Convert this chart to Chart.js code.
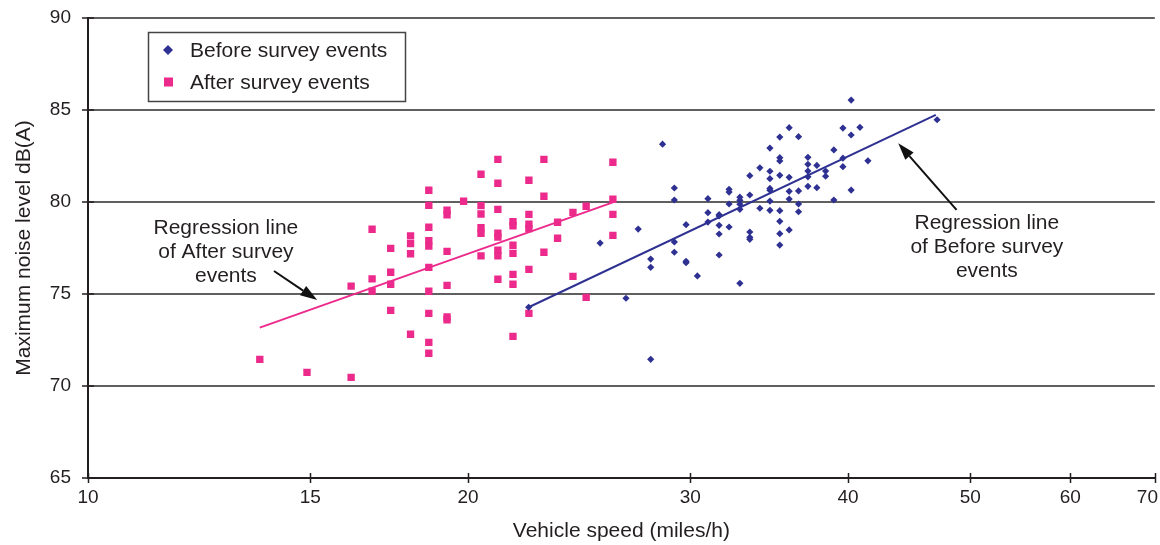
<!DOCTYPE html>
<html>
<head>
<meta charset="utf-8">
<title>Maximum noise level vs vehicle speed</title>
<script src="https://cdn.jsdelivr.net/npm/chart.js@4.4.1/dist/chart.umd.min.js"></script>
<style>
  html, body { margin: 0; padding: 0; background: #fff; }
  #wrap { width: 1160px; height: 545px; }
</style>
</head>
<body>
<div id="wrap"><canvas id="chart" width="1160" height="545"></canvas></div>
<script>
// @ts-check

const SPEED_TICKS = [10, 15, 20, 30, 40, 50, 60, 70];
const LEVEL_TICKS = [65, 70, 75, 80, 85, 90];

/** Before survey: speed columns (miles/h) and the max levels dB(A) logged at each */
const beforeSpeeds = [22.34, 25.45, 26.68, 27.28, 27.91, 28.52, 29.14, 29.77, 30.39, 30.98,
  31.62, 32.20, 32.84, 33.44, 34.06, 34.69, 35.32, 35.93, 36.55, 37.18,
  37.79, 38.40, 38.98, 39.63, 40.23, 40.88, 41.48, 47.06];
const beforeLevels = [
  [74.28],
  [77.77],
  [74.77],
  [78.53],
  [76.90, 76.45, 71.45],
  [83.14],
  [80.76, 80.11, 77.83, 77.27],
  [78.77, 76.78, 76.70],
  [75.98],
  [80.18, 79.42, 78.91],
  [79.31, 79.24, 78.73, 78.26, 77.12],
  [80.69, 80.54, 79.89, 78.64],
  [80.26, 80.09, 79.88, 79.60, 75.58],
  [81.43, 80.38, 78.37, 78.08, 77.97],
  [81.86, 79.66],
  [82.93, 81.67, 81.27, 80.74, 80.64, 80.05, 79.55],
  [83.53, 82.41, 82.23, 81.45, 79.53, 78.95, 78.28, 77.66],
  [84.04, 81.34, 80.58, 80.16, 78.48],
  [83.55, 80.60, 79.89, 79.47],
  [82.43, 82.05, 81.68, 81.37, 80.85],
  [81.99, 80.78],
  [81.68, 81.40],
  [82.83, 80.11],
  [84.02, 82.38, 81.92],
  [85.54, 83.64, 80.65],
  [84.06],
  [82.24],
  [84.47],
];

/** After survey: same layout */
const afterSpeeds = [13.68, 14.91, 16.16, 16.79, 17.37, 18.01, 18.62, 19.25, 19.84, 20.48,
  21.12, 21.71, 22.35, 22.97, 23.55, 24.22, 24.81, 26.05];
const afterLevels = [
  [71.45],
  [70.74],
  [75.43, 70.47],
  [78.52, 75.82, 75.16],
  [77.48, 76.18, 75.53, 74.11],
  [78.16, 77.74, 77.19, 72.81],
  [80.64, 79.82, 78.63, 77.90, 77.60, 76.45, 75.15, 73.95, 72.37, 71.78],
  [79.55, 79.30, 77.32, 75.47, 73.75, 73.60],
  [80.04],
  [81.51, 79.80, 79.35, 78.60, 78.30, 77.07],
  [82.32, 81.02, 79.60, 78.30, 78.10, 77.38, 77.08, 75.80],
  [78.93, 78.71, 77.65, 77.21, 76.07, 75.53, 72.70],
  [81.18, 79.33, 78.80, 78.55, 76.34, 73.95],
  [82.32, 80.31, 77.27],
  [78.90, 78.03],
  [79.44, 75.96],
  [79.77, 74.82],
  [82.16, 80.15, 79.33, 78.19],
];

/** Regression line end points (log-speed fit) */
const beforeTrendSpeed = [22.34, 46.95];
const beforeTrendLevel = [74.28, 84.73];
const afterTrendSpeed = [13.68, 26.05];
const afterTrendLevel = [73.17, 79.98];

const BLUE = "#2e3192";
const PINK = "#ec2a8c";
const INK = "#231f20";
const FONT = "'Liberation Sans', Arial, Helvetica, sans-serif";

/** Call-out text with its arrow, all in data units */
const NOTES = [
  { lines: ["Regression line", "of After survey", "events"], at: [12.86, 78.64], tail: [14.04, 76.25], tip: [15.19, 74.67] },
  { lines: ["Regression line", "of Before survey", "events"], at: [51.53, 78.89], tail: [48.76, 79.57], tip: [43.84, 83.19] },
];

/**
 * @param {number[]} speeds
 * @param {number[][]} levels
 */
function toPoints(speeds, levels) {
  return speeds.flatMap((s, i) => levels[i].map((y) => ({ x: s, y })));
}

/** @param {number[]} xs @param {number[]} ys */
function toLine(xs, ys) {
  return xs.map((x, i) => ({ x, y: ys[i] }));
}

function arrow(ctx, x0, y0, x1, y1) {
  const ang = Math.atan2(y1 - y0, x1 - x0);
  const len = 17;
  const half = 5.5;
  const bx = x1 - Math.cos(ang) * len;
  const by = y1 - Math.sin(ang) * len;
  ctx.beginPath();
  ctx.moveTo(x0, y0);
  ctx.lineTo(bx, by);
  ctx.stroke();
  ctx.beginPath();
  ctx.moveTo(x1, y1);
  ctx.lineTo(bx + Math.sin(ang) * half, by - Math.cos(ang) * half);
  ctx.lineTo(bx - Math.sin(ang) * half, by + Math.cos(ang) * half);
  ctx.closePath();
  ctx.fill();
}

const decor = {
  id: "decor",
  afterDraw(chart) {
    const { ctx, chartArea: area } = chart;
    const xs = chart.scales.x;
    const ys = chart.scales.y;
    ctx.save();

    // cross tick marks on both axes
    ctx.strokeStyle = INK;
    ctx.lineWidth = 1.5;
    ctx.beginPath();
    for (const v of LEVEL_TICKS) {
      const py = Math.round(ys.getPixelForValue(v));
      ctx.moveTo(area.left - 6, py);
      ctx.lineTo(area.left + 6, py);
    }
    for (const v of SPEED_TICKS) {
      const px = Math.round(xs.getPixelForValue(v)) + 0.5;
      ctx.moveTo(px, area.bottom - 5);
      ctx.lineTo(px, area.bottom + 5);
    }
    ctx.stroke();

    // speed labels, the last one pulled in so it stays on the canvas
    ctx.fillStyle = INK;
    ctx.font = `19px ${FONT}`;
    ctx.textAlign = "left";
    ctx.textBaseline = "middle";
    for (const v of SPEED_TICKS) {
      const t = String(v);
      const w = ctx.measureText(t).width;
      const px = xs.getPixelForValue(v);
      const left = Math.min(px - w / 2, chart.width - 2 - w);
      ctx.fillText(t, left, area.bottom + 20);
    }

    // legend box
    const lx = area.left + 60;
    const ly = area.top + 14;
    ctx.fillStyle = "#fff";
    ctx.fillRect(lx, ly, 257, 69);
    ctx.strokeStyle = "#444";
    ctx.lineWidth = 1.5;
    ctx.strokeRect(lx + 0.5, ly + 0.5, 257, 69);

    const row1 = ly + 18;
    const row2 = ly + 50;
    ctx.fillStyle = BLUE;
    ctx.beginPath();
    ctx.moveTo(lx + 20, row1 - 5);
    ctx.lineTo(lx + 25, row1);
    ctx.lineTo(lx + 20, row1 + 5);
    ctx.lineTo(lx + 15, row1);
    ctx.closePath();
    ctx.fill();
    ctx.fillStyle = PINK;
    ctx.fillRect(lx + 16, row2 - 4.5, 9, 9);

    ctx.fillStyle = INK;
    ctx.font = `21px ${FONT}`;
    ctx.fillText("Before survey events", lx + 42, row1 + 1);
    ctx.fillText("After survey events", lx + 42, row2 + 1);

    // regression call-outs
    ctx.textAlign = "center";
    ctx.strokeStyle = "#111";
    ctx.lineWidth = 2;
    for (const n of NOTES) {
      const cx = xs.getPixelForValue(n.at[0]);
      const cy = ys.getPixelForValue(n.at[1]);
      ctx.fillStyle = INK;
      n.lines.forEach((t, i) => ctx.fillText(t, cx, cy + i * 24 + 1));
      ctx.fillStyle = "#111";
      arrow(ctx,
        xs.getPixelForValue(n.tail[0]), ys.getPixelForValue(n.tail[1]),
        xs.getPixelForValue(n.tip[0]), ys.getPixelForValue(n.tip[1]));
    }
    ctx.restore();
  },
};

const canvas = /** @type {HTMLCanvasElement} */ (document.getElementById("chart"));

new Chart(canvas, {
  type: "scatter",
  data: {
    datasets: [
      {
        label: "Regression line of Before survey events",
        data: toLine(beforeTrendSpeed, beforeTrendLevel),
        showLine: true,
        borderColor: BLUE,
        borderWidth: 2,
        pointRadius: 0,
        order: 0,
      },
      {
        label: "Regression line of After survey events",
        data: toLine(afterTrendSpeed, afterTrendLevel),
        showLine: true,
        borderColor: PINK,
        borderWidth: 2,
        pointRadius: 0,
        order: 0,
      },
      {
        label: "Before survey events",
        data: toPoints(beforeSpeeds, beforeLevels),
        pointStyle: "rectRot",
        pointRadius: 3.6,
        backgroundColor: BLUE,
        borderColor: BLUE,
        borderWidth: 0,
        order: 1,
      },
      {
        label: "After survey events",
        data: toPoints(afterSpeeds, afterLevels),
        pointStyle: "rect",
        pointRadius: 5.2,
        backgroundColor: PINK,
        borderColor: PINK,
        borderWidth: 0,
        order: 2,
      },
    ],
  },
  options: {
    responsive: false,
    devicePixelRatio: 1,
    animation: false,
    layout: { padding: { left: 0, right: 5, top: 18, bottom: 0 } },
    plugins: {
      legend: { display: false },
      tooltip: { enabled: false },
    },
    scales: {
      x: {
        type: "logarithmic",
        min: 10,
        max: 70,
        afterBuildTicks: (s) => { s.ticks = SPEED_TICKS.map((v) => ({ value: v })); },
        afterFit: (s) => { s.height = 67; s.paddingLeft = 0; s.paddingRight = 0; },
        grid: { display: false, drawTicks: false },
        border: { display: true, color: INK, width: 2 },
        ticks: { display: false },
        title: {
          display: true,
          text: "Vehicle speed (miles/h)",
          color: INK,
          font: { family: FONT, size: 21 },
          padding: { top: 0, bottom: 1 },
        },
      },
      y: {
        type: "linear",
        min: 65,
        max: 90,
        afterBuildTicks: (s) => { s.ticks = LEVEL_TICKS.map((v) => ({ value: v })); },
        afterFit: (s) => { s.width = 88; s.paddingTop = 0; s.paddingBottom = 0; },
        grid: { color: "#5f5f5f", lineWidth: 2, drawTicks: false },
        border: { display: true, color: INK, width: 2 },
        ticks: {
          padding: 17,
          color: INK,
          font: { family: FONT, size: 19 },
          callback: (v) => String(v),
        },
        title: {
          display: true,
          text: "Maximum noise level dB(A)",
          color: INK,
          font: { family: FONT, size: 21 },
          padding: { top: 12, bottom: 0 },
        },
      },
    },
  },
  plugins: [decor],
});
</script>
</body>
</html>
